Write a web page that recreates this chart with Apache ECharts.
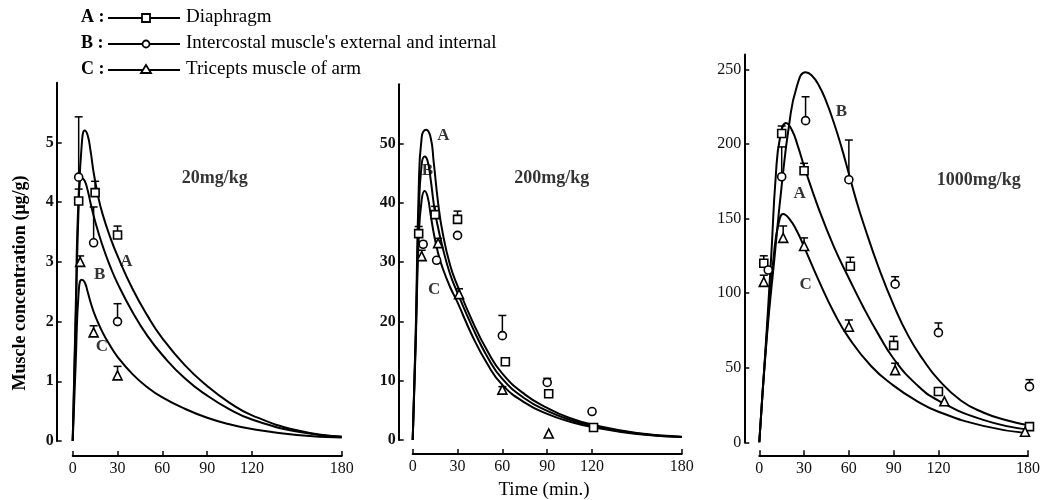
<!DOCTYPE html>
<html>
<head>
<meta charset="utf-8">
<script src="https://cdn.jsdelivr.net/npm/echarts@6/dist/echarts.min.js"></script>
<style>
  html, body { margin: 0; padding: 0; background: #fff; }
  #chart { width: 1043px; height: 500px; }
</style>
</head>
<body>
<div id="chart"></div>
<script>
// 三种剂量下肌肉浓度随时间变化
const xTicks = [0, 30, 60, 90, 120, 180];
const yTicks1 = [0, 1, 2, 3, 4, 5];
const yTicks2 = [0, 10, 20, 30, 40, 50];
const yTicks3 = [0, 50, 100, 150, 200, 250];
const doses = ['20mg/kg', '200mg/kg', '1000mg/kg'];
const legendNames = ['Diaphragm', "Intercostal muscle's external and internal", 'Tricepts muscle of arm'];

// fitted curves [min, value]
const curve1A = [[0,0],[2,2],[4,3.95],[6,4.95],[8,5.2],[10,5.12],[12,4.85],[14,4.5],[17,4.1],[20,3.8],[25,3.42],[30,3.1],[40,2.55],[50,2.1],[60,1.72],[75,1.27],[90,0.92],[105,0.64],[120,0.43],[150,0.18],[180,0.07]];
const curve1B = [[0,0],[2,2.2],[4,4.1],[6,4.4],[8,4.36],[10,4.2],[12,3.98],[15,3.68],[20,3.27],[25,2.93],[30,2.64],[40,2.16],[50,1.76],[60,1.44],[75,1.05],[90,0.76],[105,0.53],[120,0.36],[150,0.16],[180,0.07]];
const curve1C = [[0,0],[2,1.3],[4,2.5],[6,2.7],[8,2.66],[10,2.5],[12,2.32],[15,2.1],[20,1.82],[25,1.6],[30,1.41],[40,1.12],[50,0.9],[60,0.73],[75,0.54],[90,0.39],[105,0.28],[120,0.2],[150,0.1],[180,0.06]];

const curve2A = [[0,0],[2,18],[4,42],[6,51],[9,52.3],[12,51],[14,47],[17,40],[20,35],[25,29.5],[30,26],[40,20],[50,15],[60,11.2],[75,7.7],[90,5.4],[105,3.7],[120,2.6],[150,1.2],[180,0.55]];
const curve2B = [[0,0],[2,17],[4,38],[6,46.5],[8,47.8],[10,47],[12,44],[14,40],[16,37],[20,32.5],[25,28],[30,24.8],[40,19],[50,14],[60,10.3],[75,7],[90,4.9],[105,3.4],[120,2.4],[150,1.1],[180,0.5]];
const curve2C = [[0,0],[2,16],[4,34],[6,40.5],[8,42],[10,41],[12,38],[14,35],[17,31.5],[20,29],[25,25.8],[30,23.2],[40,17.5],[50,12.8],[60,9.3],[75,6.3],[90,4.4],[105,3.1],[120,2.2],[150,1],[180,0.5]];

const curve3A = [[0,0],[4,60],[8,125],[11,178],[14,205],[18,214],[22,209],[26,198],[30,185],[40,156],[50,131],[60,110],[70,90],[80,72],[90,56],[105,39],[120,28],[150,15],[180,8.5]];
const curve3B = [[0,0],[5,70],[10,122],[15,172],[20,213],[25,238],[31,248],[35,246],[40,239],[45,228],[50,214],[55,198],[60,180],[65,162],[70,146],[80,117],[90,92],[100,71],[110,55],[120,42],[135,28],[150,20],[165,15],[180,11.5]];
const curve3C = [[0,0],[5,72],[10,128],[13,147],[16,153],[20,150],[25,142],[30,131],[40,108],[50,87],[60,70],[75,51],[90,38],[105,28],[120,20.5],[150,11],[180,6]];

// observed [min, mean, mean + SE]
const obs1A = [[4,4.02,4.22],[15,4.16,4.35],[30,3.45,3.6]];
const obs1B = [[4,4.42,5.43],[14,3.32,3.92],[30,2.0,2.3]];
const obs1C = [[5,3.0,3.1],[14,1.82,1.93],[30,1.1,1.25]];

const obs2A = [[4,34.8,36],[15,38,39.4],[30,37.2,38.6],[62,13.2,13.5],[91,7.8,8],[121,2.1,2.1]];
const obs2B = [[7,33,33.5],[16,30.3,30.3],[30,34.5,34.5],[60,17.6,21],[90,9.7,10.4],[120,4.8,4.8]];
const obs2C = [[6,31,32],[17,33.2,34],[31,24.6,25.5],[60,8.5,9],[91,1.1,1.1]];

const obs3A = [[3,120,125],[15,207,212],[30,182,187],[61,118,124],[90,65,71],[120,34,36],[181,10.5,10.5]];
const obs3B = [[6,115.5,115.5],[15,178,198],[31,215.6,231.6],[60,176,202.6],[91,106,111],[120,73.5,80],[181,37.3,42]];
const obs3C = [[3,107.5,112],[16,137,145],[30,131.6,137],[60,77.5,82],[91,48.4,53],[124,27.5,27.5],[178,7.1,7.1]];

// curve letters and dose text [min, value, text]
const notes1 = [[36,3.0,'A'],[18,2.78,'B'],[19.5,1.58,'C']];
const notes2 = [[20.5,51.4,'A'],[9.8,45.5,'B'],[14.3,25.3,'C']];
const notes3 = [[27,167,'A'],[55,221.6,'B'],[31,105.4,'C']];
const doseAt = [[95,4.4],[93,44.2],[147,175.8]];

const serif = 'Liberation Serif';
const symbols = ['rect', 'circle', 'triangle'];

var dom = document.getElementById('chart');
var myChart = echarts.init(dom, null, { renderer: 'canvas' });

function errorBars(idx, data) {
    return {
        type: 'custom',
        xAxisIndex: idx, yAxisIndex: idx,
        encode: { x: 0, y: [1, 2] },
        z: 3, clip: false,
        silent: true,
        renderItem: function (params, api) {
            var lo = api.coord([api.value(0), api.value(1)]);
            var hi = api.coord([api.value(0), api.value(2)]);
            if (lo[1] - hi[1] < 2) return null;
            return {
                type: 'group',
                children: [
                    { type: 'line', shape: { x1: lo[0], y1: lo[1], x2: hi[0], y2: hi[1] }, style: { stroke: '#000', lineWidth: 1.5 } },
                    { type: 'line', shape: { x1: hi[0] - 4, y1: hi[1], x2: hi[0] + 4, y2: hi[1] }, style: { stroke: '#000', lineWidth: 1.5 } }
                ]
            };
        },
        data: data
    };
}

function curve(idx, data) {
    return {
        type: 'line', xAxisIndex: idx, yAxisIndex: idx,
        data: data, smooth: 0.5, symbol: 'none',
        lineStyle: { color: '#000', width: 2 }, z: 2, silent: true
    };
}

function marks(idx, k, data) {
    return {
        type: 'scatter', xAxisIndex: idx, yAxisIndex: idx,
        data: data.map(d => [d[0], d[1]]),
        symbol: symbols[k], symbolSize: k === 2 ? 9 : 8,
        itemStyle: { color: '#fff', borderColor: '#000', borderWidth: 1.6, opacity: 1 },
        z: 4, silent: true, clip: false
    };
}

function notes(idx, data, size) {
    return {
        type: 'scatter', xAxisIndex: idx, yAxisIndex: idx,
        data: data.map(d => ({ value: [d[0], d[1]], name: d[2] })),
        symbolSize: 0, silent: true, z: 5,
        label: {
            show: true, position: 'inside', formatter: '{b}',
            fontFamily: serif, fontSize: size, color: '#000', fontWeight: 'bold'
        }
    };
}

function xAxis(idx, off) {
    return {
        type: 'value', gridIndex: idx, min: 0, max: 180, interval: 30, offset: off,
        axisLine: { onZero: false, lineStyle: { color: '#000', width: 2 } },
        axisTick: { inside: true, length: 5, customValues: xTicks, lineStyle: { color: '#000', width: 1.5 } },
        axisLabel: { customValues: xTicks, fontFamily: serif, fontSize: 16, color: '#111', margin: 5 },
        splitLine: { show: false }
    };
}

function yAxis(idx, max, ticks, step, off, bold) {
    return {
        type: 'value', gridIndex: idx, min: 0, max: max, interval: step, offset: off,
        axisLine: { show: true, onZero: false, lineStyle: { color: '#000', width: 2 } },
        axisTick: { show: true, inside: true, length: 5, customValues: ticks, lineStyle: { color: '#000', width: 1.5 } },
        axisLabel: { customValues: ticks, fontFamily: serif, fontSize: 16, color: '#111', margin: 3, fontWeight: bold ? 'bold' : 'normal' },
        splitLine: { show: false }
    };
}

// legend rows drawn as graphics
var legendRows = [];
['A', 'B', 'C'].forEach(function (letter, k) {
    var y = 18 + k * 26;
    legendRows.push(
        { type: 'text', left: 81, top: y - 10, style: { text: letter + ' :', fontFamily: serif, fontSize: 18, fontWeight: 'bold', fill: '#000' } },
        { type: 'line', shape: { x1: 108, y1: y, x2: 180, y2: y }, style: { stroke: '#000', lineWidth: 2 } },
        { type: 'text', left: 186, top: y - 10, style: { text: legendNames[k], fontFamily: serif, fontSize: 19, fill: '#000' } }
    );
    var mk;
    if (k === 0) mk = { type: 'rect', shape: { x: 142, y: y - 4, width: 8, height: 8 }, style: { fill: '#fff', stroke: '#000', lineWidth: 1.8 } };
    else if (k === 1) mk = { type: 'circle', shape: { cx: 146, cy: y, r: 3.5 }, style: { fill: '#fff', stroke: '#000', lineWidth: 1.8 } };
    else mk = { type: 'polygon', shape: { points: [[146, y - 5], [141, y + 3], [151, y + 3]] }, style: { fill: '#fff', stroke: '#000', lineWidth: 1.8 } };
    legendRows.push(mk);
});

var option = {
    animation: false,
    backgroundColor: '#fff',
    grid: [
        { left: 72.7, top: 82.8, width: 269, height: 358.2 },
        { left: 412.7, top: 84.2, width: 269, height: 355.8 },
        { left: 759.3, top: 54.4, width: 269.7, height: 387.9 }
    ],
    xAxis: [xAxis(0, 15), xAxis(1, 14), xAxis(2, 13)],
    yAxis: [
        yAxis(0, 6, yTicks1, 1, 16, true),
        yAxis(1, 60, yTicks2, 10, 14, true),
        yAxis(2, 260, yTicks3, 50, 15, false)
    ],
    graphic: legendRows.concat([
        { type: 'text', x: 20, y: 283, rotation: Math.PI / 2, style: { text: 'Muscle concentration (μg/g)', fontFamily: serif, fontSize: 18, fontWeight: 'bold', fill: '#000', align: 'center', verticalAlign: 'middle' } },
        { type: 'text', x: 544, y: 490, style: { text: 'Time (min.)', fontFamily: serif, fontSize: 19, fill: '#000', align: 'center', verticalAlign: 'middle' } }
    ]),
    series: [
        curve(0, curve1A), curve(0, curve1B), curve(0, curve1C),
        errorBars(0, obs1A.concat(obs1B, obs1C)),
        marks(0, 0, obs1A), marks(0, 1, obs1B), marks(0, 2, obs1C),
        notes(0, notes1, 17),
        notes(0, [doseAt[0].concat(doses[0])], 18),

        curve(1, curve2A), curve(1, curve2B), curve(1, curve2C),
        errorBars(1, obs2A.concat(obs2B, obs2C)),
        marks(1, 0, obs2A), marks(1, 1, obs2B), marks(1, 2, obs2C),
        notes(1, notes2, 17),
        notes(1, [doseAt[1].concat(doses[1])], 18),

        curve(2, curve3A), curve(2, curve3B), curve(2, curve3C),
        errorBars(2, obs3A.concat(obs3B, obs3C)),
        marks(2, 0, obs3A), marks(2, 1, obs3B), marks(2, 2, obs3C),
        notes(2, notes3, 17),
        notes(2, [doseAt[2].concat(doses[2])], 18)
    ]
};

if (option && typeof option === 'object') {
    myChart.setOption(option);
}

window.addEventListener('resize', myChart.resize);
</script>
</body>
</html>
